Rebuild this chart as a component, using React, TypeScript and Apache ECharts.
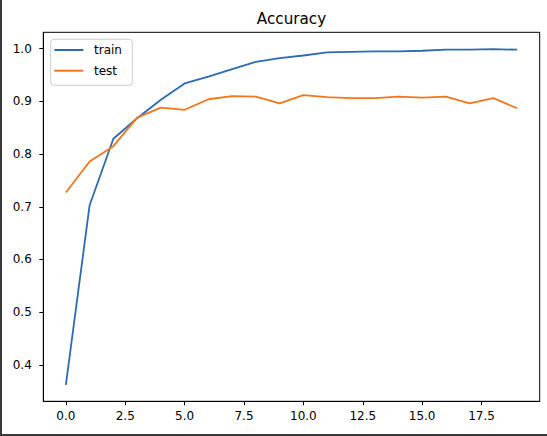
import React, { useEffect, useRef } from "react";
import * as echarts from "echarts";

const epochs = [0, 1, 2, 3, 4, 5, 6, 7, 8, 9, 10, 11, 12, 13, 14, 15, 16, 17, 18, 19];
const trainAcc = [0.362, 0.703, 0.829, 0.868, 0.903, 0.934, 0.947, 0.961, 0.975, 0.982, 0.987, 0.993, 0.994, 0.995, 0.995, 0.996, 0.998, 0.998, 0.999, 0.998];
const testAcc = [0.727, 0.786, 0.815, 0.869, 0.888, 0.884, 0.904, 0.910, 0.909, 0.896, 0.912, 0.908, 0.906, 0.906, 0.909, 0.907, 0.909, 0.896, 0.906, 0.887];
const xTicks = [0, 2.5, 5, 7.5, 10, 12.5, 15, 17.5];
const yTicks = [0.4, 0.5, 0.6, 0.7, 0.8, 0.9, 1.0];
const seriesNames = ["train", "test"];
const titleText = "Accuracy";

const FONT = "DejaVu Sans";
const BLUE = "#2c6bb1";
const ORANGE = "#f4751b";

export default function App() {
  const ref = useRef<HTMLDivElement>(null);
  useEffect(() => {
    if (!ref.current) return;
    const chart = echarts.init(ref.current, undefined, { renderer: "svg" });
    const gridLeft = 43.3;
    const gridRight = 547 - 539.7;
    const plotCenter = (43.3 + 539.7) / 2;
    const axisLine = { show: true, onZero: false, lineStyle: { color: "#000", width: 1 } };
    chart.setOption({
      animation: false,
      backgroundColor: "#fff",
      textStyle: { fontFamily: FONT },
      graphic: [
        {
          type: "text",
          x: plotCenter,
          y: 18.5,
          style: {
            text: titleText,
            fontFamily: FONT,
            fontSize: 15.2,
            fill: "#000",
            textAlign: "center",
            textVerticalAlign: "middle",
          },
        },
      ],
      grid: {
        left: gridLeft,
        right: gridRight,
        top: 32.3,
        bottom: 436 - 401.3,
        show: true,
        borderColor: "#000",
        borderWidth: 1,
        backgroundColor: "transparent",
      },
      legend: {
        orient: "vertical",
        left: 50.7,
        top: 39.3,
        padding: [3.7, 10.4, 7.6, 3.6],
        itemWidth: 29,
        itemHeight: 2,
        itemGap: 6.7,
        icon: "rect",
        itemStyle: { borderWidth: 0 },
        backgroundColor: "rgba(255,255,255,0.8)",
        borderColor: "#cccccc",
        borderWidth: 1,
        borderRadius: 3,
        textStyle: {
          fontFamily: FONT,
          fontSize: 12,
          color: "#000",
          lineHeight: 14,
          padding: [0, 0, 0, 5.7],
        },
        data: seriesNames,
      },
      xAxis: {
        type: "value",
        position: "bottom",
        min: -0.95,
        max: 19.95,
        axisLine,
        splitLine: { show: false },
        axisTick: {
          show: true,
          length: 4,
          inside: false,
          lineStyle: { color: "#000", width: 1 },
          customValues: xTicks,
        },
        axisLabel: {
          show: true,
          margin: 9,
          fontFamily: FONT,
          fontSize: 12,
          color: "#000",
          customValues: xTicks,
          formatter: (v: number) => v.toFixed(1),
        },
      },
      yAxis: {
        type: "value",
        position: "left",
        min: 0.331,
        max: 1.031,
        axisLine,
        splitLine: { show: false },
        axisTick: {
          show: true,
          length: 4,
          inside: false,
          lineStyle: { color: "#000", width: 1 },
          customValues: yTicks,
        },
        axisLabel: {
          show: true,
          margin: 11.5,
          fontFamily: FONT,
          fontSize: 12,
          color: "#000",
          customValues: yTicks,
          formatter: (v: number) => v.toFixed(1),
        },
      },
      series: [
        {
          name: seriesNames[0],
          type: "line",
          data: epochs.map((e, i) => [e, trainAcc[i]]),
          showSymbol: false,
          symbol: "none",
          lineStyle: { color: BLUE, width: 1.8 },
          itemStyle: { color: BLUE, borderWidth: 0 },
          z: 3,
        },
        {
          name: seriesNames[1],
          type: "line",
          data: epochs.map((e, i) => [e, testAcc[i]]),
          showSymbol: false,
          symbol: "none",
          lineStyle: { color: ORANGE, width: 1.8 },
          itemStyle: { color: ORANGE, borderWidth: 0 },
          z: 4,
        },
      ],
    });
    return () => chart.dispose();
  }, []);
  return (
    <div style={{ position: "fixed", left: 0, top: 0, width: 547, height: 436, background: "#fff" }}>
      <div ref={ref} style={{ position: "absolute", left: 0, top: 0, width: 547, height: 436 }} />
      <div
        style={{
          position: "absolute",
          left: 0,
          top: 0,
          width: 547,
          height: 436,
          boxSizing: "border-box",
          borderLeft: "2px solid #3a3a3a",
          borderBottom: "2px solid #3a3a3a",
          pointerEvents: "none",
        }}
      />
    </div>
  );
}
